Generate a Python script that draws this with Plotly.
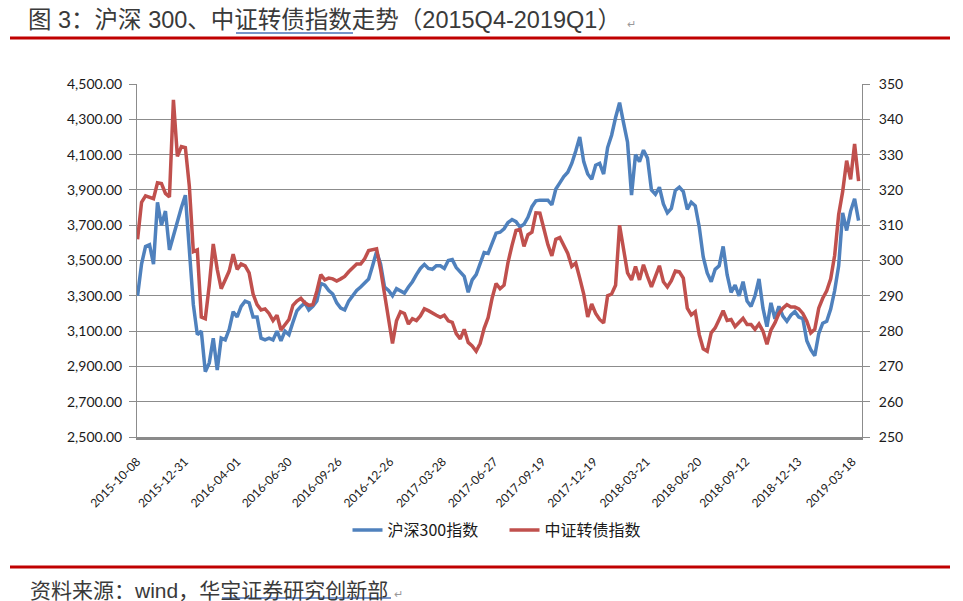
import pandas as pd
import plotly.graph_objects as go

# Weekly observations (Fridays), 2015-10-09 .. 2019-03-29
dates = pd.date_range("2015-10-09", periods=182, freq="7D").strftime("%Y-%m-%d").tolist()

# 沪深300指数 (left axis)
hs300 = [
    3300, 3480, 3580, 3590, 3480, 3830, 3700, 3780, 3560, 3640,
    3730, 3800, 3870, 3560, 3250, 3080, 3100, 2870, 2920, 3060,
    2880, 3060, 3050, 3110, 3210, 3180, 3240, 3270, 3260, 3180,
    3180, 3060, 3050, 3060, 3050, 3100, 3045, 3100, 3080, 3150,
    3215, 3240, 3260, 3220, 3240, 3270, 3370, 3360, 3330, 3310,
    3260, 3230, 3220, 3270, 3300, 3330, 3350, 3370, 3395, 3470,
    3550, 3480, 3350, 3330, 3300, 3340, 3330, 3315, 3350, 3380,
    3420, 3455, 3478, 3455, 3450, 3470, 3470, 3455, 3500, 3505,
    3460, 3435, 3410, 3320, 3390, 3420, 3480, 3545, 3540, 3595,
    3655, 3660, 3680, 3715, 3732, 3720, 3690, 3705, 3745, 3805,
    3838, 3842, 3842, 3842, 3815, 3905, 3940, 3975, 4000, 4050,
    4120, 4200, 4060, 3990, 3960, 4040, 4050, 3990, 4140, 4210,
    4310, 4394, 4280, 4170, 3870, 4100, 4060, 4125, 4080, 3900,
    3875, 3915, 3820, 3770, 3795, 3897, 3916, 3890, 3790, 3830,
    3810, 3690, 3520, 3430, 3380, 3450, 3470, 3580, 3420, 3320,
    3360, 3300, 3380, 3270, 3240, 3300, 3395, 3230, 3125, 3260,
    3170, 3240, 3185, 3156, 3190, 3210, 3180, 3170, 3045, 2995,
    2960, 3085, 3145, 3156, 3225, 3330, 3470, 3770, 3670, 3780,
    3850, 3726,
]

# 中证转债指数 (right axis)
cb_index = [
    306.0, 316.5, 318.3, 318.0, 317.5, 322.0, 321.8, 319.0, 318.0, 345.5,
    329.5, 332.3, 332.0, 321.0, 302.5, 303.0, 284.0, 283.5, 293.0, 304.7,
    297.5, 292.0, 294.8, 297.0, 301.8, 297.5, 299.0, 298.5, 296.5, 290.5,
    287.5, 286.0, 286.3, 285.0, 283.0, 284.5, 280.3, 281.9, 283.3, 287.3,
    288.5, 289.3, 288.0, 287.3, 287.5, 291.3, 296.0, 294.5, 295.0, 294.8,
    294.2, 294.8, 295.5, 296.8, 297.8, 299.0, 299.0, 300.5, 302.8, 303.0,
    303.3, 297.5, 290.6, 283.5, 276.5, 282.9, 285.5, 285.0, 282.0, 283.5,
    283.0, 284.3, 286.3, 285.8, 285.0, 284.5, 283.9, 284.5, 282.9, 282.5,
    279.3, 277.8, 280.5, 276.8, 275.8, 274.3, 276.5, 280.8, 283.8, 289.3,
    293.5, 292.0, 293.0, 299.5, 304.3, 308.5, 308.8, 304.0, 307.3, 308.0,
    313.5, 313.4, 309.0, 304.5, 301.3, 306.0, 306.5, 304.0, 302.0, 298.3,
    299.3, 295.0, 290.5, 284.0, 287.7, 285.0, 283.3, 282.3, 290.0, 290.5,
    293.0, 310.0, 302.5, 296.5, 294.5, 298.3, 294.5, 298.8, 295.5, 292.5,
    295.5, 298.5, 294.0, 292.5, 294.3, 297.0, 296.8, 295.0, 286.5, 284.6,
    285.5, 279.0, 275.0, 274.3, 279.5, 280.9, 283.3, 285.8, 283.0, 283.3,
    281.3, 282.5, 283.6, 281.9, 281.9, 280.5, 282.0, 280.0, 276.3, 280.3,
    282.3, 285.0, 286.5, 287.5, 286.8, 286.8, 286.3, 285.0, 282.8, 279.5,
    280.5, 286.5, 289.3, 291.4, 294.8, 301.5, 313.0, 319.5, 328.3, 323.0,
    333.0, 322.5,
]

tick_dates = [
    "2015-10-08", "2015-12-31", "2016-04-01", "2016-06-30", "2016-09-26",
    "2016-12-26", "2017-03-28", "2017-06-27", "2017-09-19", "2017-12-19",
    "2018-03-21", "2018-06-20", "2018-09-12", "2018-12-13", "2019-03-18",
]
left_ticks = [2500, 2700, 2900, 3100, 3300, 3500, 3700, 3900, 4100, 4300, 4500]
right_ticks = [250, 260, 270, 280, 290, 300, 310, 320, 330, 340, 350]

title_text = "图 3：沪深 300、中证转债指数走势（2015Q4-2019Q1）"
source_text = "资料来源：wind，华宝证券研究创新部"

W, H = 963, 601
ML, MR, MT, MB = 137, 101, 84, 164
PW, PH = W - ML - MR, H - MT - MB

def px_x(x):
    return (x - ML) / PW

def px_y(y):
    return (H - MB - y) / PH

GRID = "#8c8c8c"
TXT = "#1a1a1a"
CJK = "Liberation Sans, Noto Sans CJK SC, sans-serif"
NUM = "Lato, Liberation Sans, sans-serif"
MARK = "<span style='font-size:11px;color:#999999'>↵</span>"

fig = go.Figure()
fig.add_trace(go.Scatter(
    x=dates, y=hs300, name="沪深300指数", mode="lines",
    line=dict(color="#4F81BD", width=3.5),
))
fig.add_trace(go.Scatter(
    x=dates, y=cb_index, name="中证转债指数", mode="lines", yaxis="y2",
    line=dict(color="#C0504D", width=3.5),
))

fig.update_layout(
    width=W, height=H,
    margin=dict(l=ML, r=MR, t=MT, b=MB),
    paper_bgcolor="white", plot_bgcolor="white",
    showlegend=True,
    legend=dict(
        orientation="h", x=0.5 + 5 / PW, xanchor="center", y=px_y(530), yanchor="middle",
        font=dict(family="Noto Sans CJK SC, sans-serif", size=16, color=TXT),
        bgcolor="rgba(0,0,0,0)", itemwidth=30,
        entrywidth=112, entrywidthmode="pixels",
    ),
    title=dict(
        text=title_text + " " + MARK,
        xref="container", yref="container", x=28 / W, xanchor="left",
        y=1 - 20 / H, yanchor="middle",
        font=dict(family=CJK, size=23.5, color="#3a3a3a"),
    ),
    xaxis=dict(
        type="date", range=["2015-10-08", "2019-04-04"],
        tickmode="array", tickvals=tick_dates, ticktext=tick_dates,
        tickangle=-45, tickfont=dict(family=NUM, size=12, color=TXT),
        showgrid=False, zeroline=False,
        showline=True, linecolor="#8a8a8a", linewidth=3,
        ticks="", ticklabelstandoff=10,
    ),
    yaxis=dict(
        range=[2500, 4500], tickmode="array", tickvals=left_ticks,
        tickformat=",.2f", tickfont=dict(family=NUM, size=14, color=TXT),
        showgrid=True, gridcolor=GRID, gridwidth=1, zeroline=False,
        showline=True, linecolor=GRID, linewidth=1,
        ticks="outside", ticklen=7, tickcolor=GRID, ticklabelstandoff=4,
    ),
    yaxis2=dict(
        range=[250, 350], tickmode="array", tickvals=right_ticks,
        overlaying="y", side="right",
        tickfont=dict(family=NUM, size=14, color=TXT),
        showgrid=False, zeroline=False,
        showline=True, linecolor=GRID, linewidth=1,
        ticks="outside", ticklen=7, tickcolor=GRID, ticklabelstandoff=6,
    ),
    shapes=[
        dict(type="line", xref="paper", yref="paper",
             x0=px_x(10), x1=px_x(950), y0=px_y(38), y1=px_y(38),
             line=dict(color="#C00000", width=3)),
        dict(type="line", xref="paper", yref="paper",
             x0=px_x(10), x1=px_x(950), y0=px_y(567), y1=px_y(567),
             line=dict(color="#C00000", width=3)),
        dict(type="line", xref="paper", yref="paper",
             x0=px_x(236), x1=px_x(353), y0=px_y(33), y1=px_y(33),
             line=dict(color="#4a72b8", width=1.5)),
        dict(type="line", xref="paper", yref="paper",
             x0=px_x(222), x1=px_x(391), y0=px_y(598), y1=px_y(598),
             line=dict(color="#4a72b8", width=1.5)),
    ],
    annotations=[
        dict(
            text=source_text + " " + MARK,
            xref="paper", yref="paper", x=px_x(28), y=px_y(590),
            xanchor="left", yanchor="middle", showarrow=False,
            font=dict(family=CJK, size=21, color="#3a3a3a"),
        ),
    ],
)

fig.write_html("out.html")
